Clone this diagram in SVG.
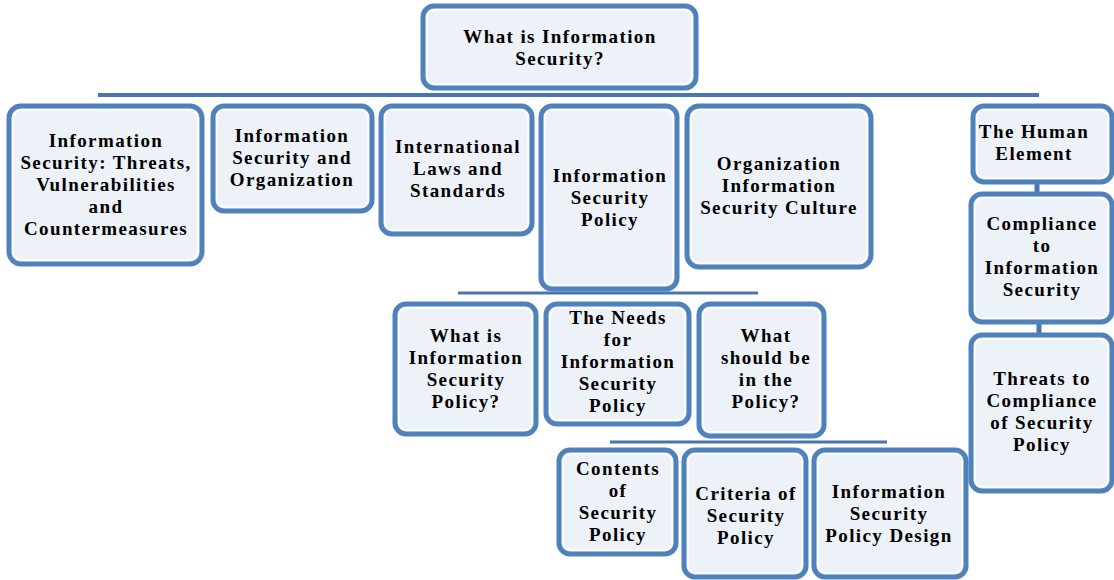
<svg xmlns="http://www.w3.org/2000/svg" width="1114" height="580" viewBox="0 0 1114 580">
<style>
.box{fill:#EDF1F8;stroke:#4F81BD;stroke-width:5}
.inner{fill:none;stroke:#FFFFFF;stroke-width:1.5}
.conn{stroke:#4A75AE;fill:none}
text{font-family:"Liberation Serif","Times New Roman",serif;font-weight:bold;font-size:19px;letter-spacing:1.4px;fill:#000;text-anchor:middle}
</style>
<rect width="1114" height="580" fill="#FFFFFF"/>
<g id="connectors">
<line class="conn" x1="98" y1="95" x2="1039" y2="95" stroke-width="4"/>
<line class="conn" x1="458" y1="293" x2="758" y2="293" stroke-width="3"/>
<line class="conn" x1="610" y1="442" x2="887" y2="442" stroke-width="3"/>
<line class="conn" x1="1037" y1="183" x2="1037" y2="192" stroke-width="5"/>
<line class="conn" x1="1039" y1="323" x2="1039" y2="333" stroke-width="5"/>
</g>
<g id="n0"><rect class="box" x="423" y="6" width="273" height="82" rx="11"/><rect class="inner" x="427" y="10" width="265" height="74" rx="8"/>
<text x="560" y="43">What is Information</text><text x="560" y="65">Security?</text></g>
<g id="n1"><rect class="box" x="9" y="106" width="193" height="158" rx="12"/><rect class="inner" x="13" y="110" width="185" height="150" rx="9"/>
<text x="106" y="147">Information</text><text x="106" y="169">Security: Threats,</text><text x="106" y="191">Vulnerabilities</text><text x="106" y="213">and</text><text x="106" y="235">Countermeasures</text></g>
<g id="n2"><rect class="box" x="213" y="106" width="159" height="105" rx="11"/><rect class="inner" x="217" y="110" width="151" height="97" rx="8"/>
<text x="292" y="142">Information</text><text x="292" y="164">Security and</text><text x="292" y="186">Organization</text></g>
<g id="n3"><rect class="box" x="381" y="106" width="151" height="128" rx="11"/><rect class="inner" x="385" y="110" width="143" height="120" rx="8"/>
<text x="458" y="153">International</text><text x="458" y="175">Laws and</text><text x="458" y="197">Standards</text></g>
<g id="n4"><rect class="box" x="541" y="106" width="136" height="183" rx="11"/><rect class="inner" x="545" y="110" width="128" height="175" rx="8"/>
<text x="610" y="182">Information</text><text x="610" y="204">Security</text><text x="610" y="226">Policy</text></g>
<g id="n5"><rect class="box" x="687" y="106" width="184" height="161" rx="12"/><rect class="inner" x="691" y="110" width="176" height="153" rx="9"/>
<text x="779" y="170">Organization</text><text x="779" y="192">Information</text><text x="779" y="214">Security Culture</text></g>
<g id="n6"><rect class="box" x="973" y="106" width="139" height="76" rx="11"/><rect class="inner" x="977" y="110" width="131" height="68" rx="8"/>
<text x="1034" y="138">The Human</text><text x="1034" y="160">Element</text></g>
<g id="n7"><rect class="box" x="971" y="194" width="141" height="128" rx="11"/><rect class="inner" x="975" y="198" width="133" height="120" rx="8"/>
<text x="1042" y="230">Compliance</text><text x="1042" y="252">to</text><text x="1042" y="274">Information</text><text x="1042" y="296">Security</text></g>
<g id="n8"><rect class="box" x="971" y="335" width="141" height="156" rx="11"/><rect class="inner" x="975" y="339" width="133" height="148" rx="8"/>
<text x="1042" y="385">Threats to</text><text x="1042" y="407">Compliance</text><text x="1042" y="429">of Security</text><text x="1042" y="451">Policy</text></g>
<g id="n9"><rect class="box" x="395" y="304" width="141" height="130" rx="11"/><rect class="inner" x="399" y="308" width="133" height="122" rx="8"/>
<text x="466" y="342">What is</text><text x="466" y="364">Information</text><text x="466" y="386">Security</text><text x="466" y="408">Policy?</text></g>
<g id="n10"><rect class="box" x="546" y="304" width="143" height="120" rx="11"/><rect class="inner" x="550" y="308" width="135" height="112" rx="8"/>
<text x="618" y="324">The Needs</text><text x="618" y="346">for</text><text x="618" y="368">Information</text><text x="618" y="390">Security</text><text x="618" y="412">Policy</text></g>
<g id="n11"><rect class="box" x="699" y="304" width="125" height="132" rx="11"/><rect class="inner" x="703" y="308" width="117" height="124" rx="8"/>
<text x="766" y="342">What</text><text x="766" y="364">should be</text><text x="766" y="386">in the</text><text x="766" y="408">Policy?</text></g>
<g id="n12"><rect class="box" x="559" y="450" width="117" height="104" rx="11"/><rect class="inner" x="563" y="454" width="109" height="96" rx="8"/>
<text x="618" y="475">Contents</text><text x="618" y="497">of</text><text x="618" y="519">Security</text><text x="618" y="541">Policy</text></g>
<g id="n13"><rect class="box" x="684" y="450" width="122" height="127" rx="11"/><rect class="inner" x="688" y="454" width="114" height="119" rx="8"/>
<text x="746" y="500">Criteria of</text><text x="746" y="522">Security</text><text x="746" y="544">Policy</text></g>
<g id="n14"><rect class="box" x="814" y="450" width="152" height="127" rx="11"/><rect class="inner" x="818" y="454" width="144" height="119" rx="8"/>
<text x="889" y="498">Information</text><text x="889" y="520">Security</text><text x="889" y="542">Policy Design</text></g>
</svg>
